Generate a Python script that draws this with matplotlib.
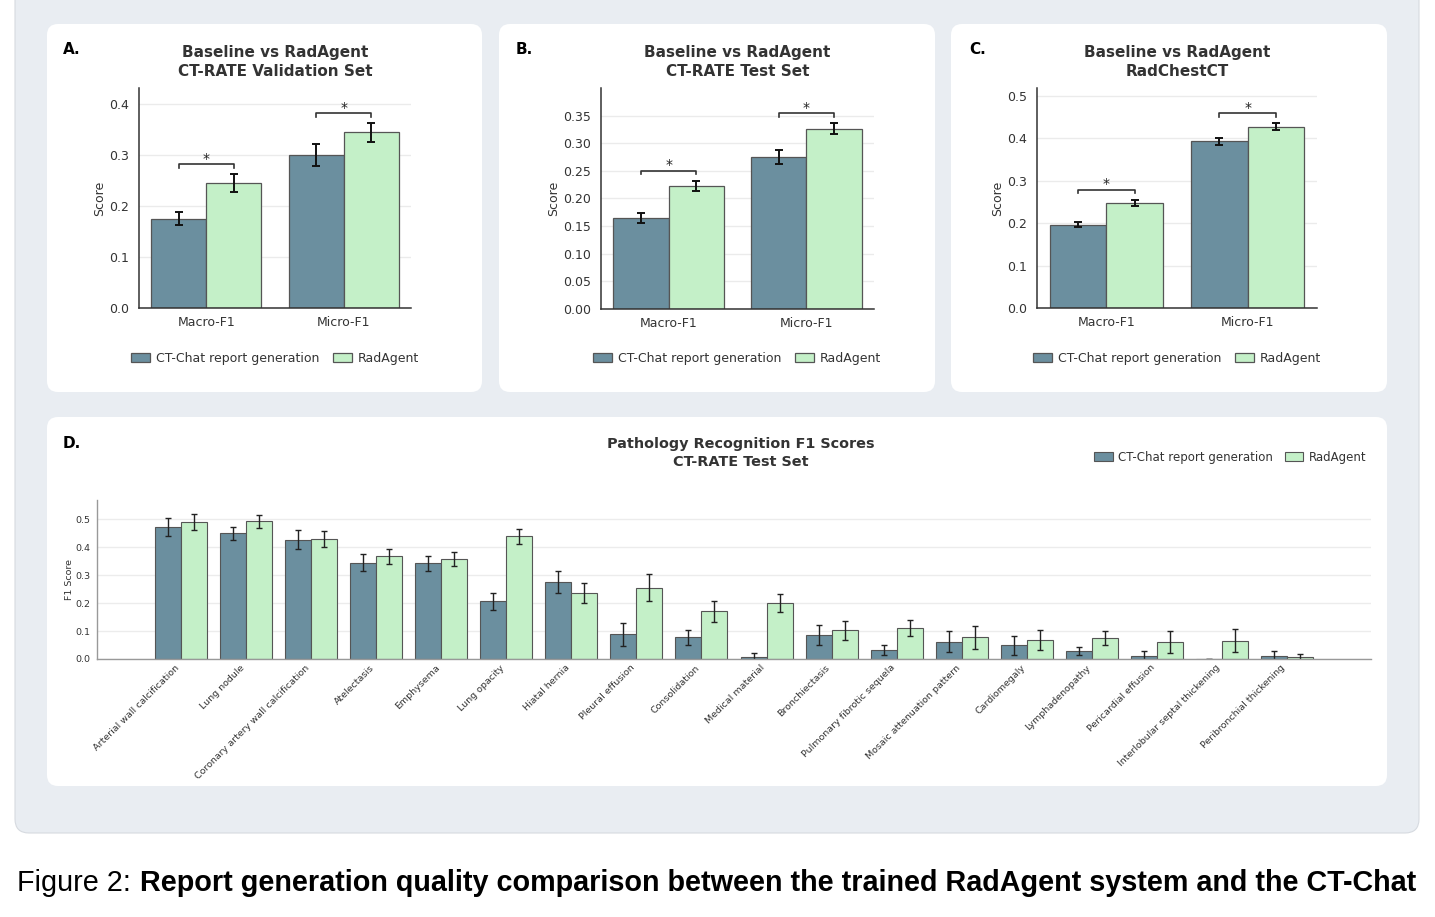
import numpy as np
import matplotlib
matplotlib.use('Agg')
import matplotlib.pyplot as plt
from matplotlib.patches import FancyBboxPatch
from matplotlib.ticker import MultipleLocator

W, H = 1435, 917

# ---------------- data ----------------
series_names = ['CT-Chat report generation', 'RadAgent']
metric_labels = ['Macro-F1', 'Micro-F1']

a_base = [0.175, 0.300]
a_base_err = [0.013, 0.021]
a_rad = [0.245, 0.344]
a_rad_err = [0.017, 0.018]

b_base = [0.164, 0.275]
b_base_err = [0.009, 0.012]
b_rad = [0.223, 0.326]
b_rad_err = [0.009, 0.010]

c_base = [0.196, 0.392]
c_base_err = [0.0055, 0.0075]
c_rad = [0.247, 0.427]
c_rad_err = [0.008, 0.008]

pathologies = ['Arterial wall calcification', 'Lung nodule',
               'Coronary artery wall calcification', 'Atelectasis', 'Emphysema',
               'Lung opacity', 'Hiatal hernia', 'Pleural effusion', 'Consolidation',
               'Medical material', 'Bronchiectasis', 'Pulmonary fibrotic sequela',
               'Mosaic attenuation pattern', 'Cardiomegaly', 'Lymphadenopathy',
               'Pericardial effusion', 'Interlobular septal thickening',
               'Peribronchial thickening']
d_base = [0.472, 0.450, 0.426, 0.345, 0.342, 0.207, 0.274, 0.088, 0.077, 0.007,
          0.086, 0.032, 0.062, 0.050, 0.028, 0.009, 0.0, 0.011]
d_base_err = [0.031, 0.023, 0.034, 0.030, 0.028, 0.030, 0.039, 0.040, 0.028, 0.014,
              0.036, 0.017, 0.038, 0.034, 0.015, 0.020, 0.0, 0.018]
d_rad = [0.490, 0.492, 0.428, 0.367, 0.357, 0.439, 0.237, 0.255, 0.170, 0.200,
         0.102, 0.112, 0.077, 0.069, 0.075, 0.060, 0.066, 0.006]
d_rad_err = [0.027, 0.023, 0.029, 0.027, 0.025, 0.026, 0.036, 0.049, 0.037, 0.033,
             0.034, 0.028, 0.040, 0.036, 0.025, 0.040, 0.040, 0.011]

caption_plain = 'Figure 2: '
caption_bold = ('Report generation quality comparison between the trained RadAgent '
                'system and the CT-Chat')

# ---------------- style ----------------
BASE = '#6b8f9f'
RAD = '#c4f0c8'
EDGE = '#555555'
TXT = '#333333'
BG = '#e9edf2'

plt.rcParams['font.family'] = ['DejaVu Sans']

fig = plt.figure(figsize=(W / 100, H / 100), dpi=100)
fig.patch.set_facecolor('white')


def px_rect(x0, y0, x1, y1):
    return [x0 / W, 1 - y1 / H, (x1 - x0) / W, (y1 - y0) / H]


def fx(x):
    return x / W


def fy(y):
    return 1 - y / H


# background and cards
bg = fig.add_axes([0, 0, 1, 1])
bg.set_xlim(0, W)
bg.set_ylim(H, 0)
bg.axis('off')
bg.set_zorder(-10)
bg.add_patch(FancyBboxPatch((15, -40), 1404, 873,
                            boxstyle='round,pad=0,rounding_size=14',
                            fc=BG, ec='#d6dae0', lw=0.8))
for (x0, y0, x1, y1) in [(47, 24, 482, 392), (499, 24, 935, 392),
                         (951, 24, 1387, 392), (47, 417, 1387, 786)]:
    bg.add_patch(FancyBboxPatch((x0, y0), x1 - x0, y1 - y0,
                                boxstyle='round,pad=0,rounding_size=11',
                                fc='white', ec='none'))


def small_panel(rect, letter, letter_x, title, base, base_err, rad, rad_err,
                step, ylabel_px, legend_cx):
    ax = fig.add_axes(px_rect(*rect))
    x = np.arange(len(metric_labels))
    w = 0.4
    ekw = dict(ecolor='#111111', elinewidth=1.4, capsize=3.2, capthick=1.4)
    ax.bar(x - w / 2, base, w, yerr=base_err, color=BASE, edgecolor=EDGE,
           linewidth=0.9, error_kw=ekw, label=series_names[0], zorder=2)
    ax.bar(x + w / 2, rad, w, yerr=rad_err, color=RAD, edgecolor=EDGE,
           linewidth=0.9, error_kw=ekw, label=series_names[1], zorder=2)
    top = max(np.max(np.add(base, base_err)), np.max(np.add(rad, rad_err))) * 1.19
    for i in range(len(x)):
        yb = max(base[i] + base_err[i], rad[i] + rad_err[i]) + 0.045 * top
        tip = 0.015 * top
        ax.plot([x[i] - w / 2, x[i] - w / 2, x[i] + w / 2, x[i] + w / 2],
                [yb - tip, yb, yb, yb - tip], color='#333333', lw=1.2, zorder=3)
        ax.annotate('*', xy=(x[i], yb), xytext=(0, -1), textcoords='offset points',
                    ha='center', va='bottom', fontsize=10, color='#222222')
    ax.set_ylim(0, top)
    ax.yaxis.set_major_locator(MultipleLocator(step))
    ax.set_xticks(x)
    ax.set_xticklabels(metric_labels)
    for s in ['top', 'right']:
        ax.spines[s].set_visible(False)
    for s in ['left', 'bottom']:
        ax.spines[s].set_color('#333333')
        ax.spines[s].set_linewidth(1.1)
    ax.tick_params(axis='y', length=0, pad=7, labelsize=9, colors=TXT)
    ax.tick_params(axis='x', length=0, pad=6, labelsize=9, colors=TXT)
    ax.yaxis.grid(True, color='#ebebeb', lw=1)
    ax.set_axisbelow(True)
    ax.set_ylabel('Score', fontsize=9, color=TXT)
    ax.yaxis.set_label_coords((ylabel_px - rect[0]) / (rect[2] - rect[0]), 0.5)
    cx = (rect[0] + rect[2]) / 2
    fig.text(fx(cx), fy(62), title, ha='center', va='center', fontsize=11,
             fontweight='bold', color=TXT, linespacing=1.3)
    fig.text(fx(letter_x), fy(50), letter, ha='left', va='center', fontsize=11,
             fontweight='bold', color='black')
    h, l = ax.get_legend_handles_labels()
    fig.legend(h, l, loc='center', bbox_to_anchor=(fx(legend_cx), fy(358)),
               ncol=2, frameon=False, fontsize=9, handlelength=1.5,
               handletextpad=0.5, columnspacing=1.1, labelcolor=TXT)
    return ax


small_panel((139, 88, 411, 308), 'A.', 63,
            'Baseline vs RadAgent\nCT-RATE Validation Set',
            a_base, a_base_err, a_rad, a_rad_err, 0.1, 106, 275)
small_panel((601, 88, 874, 309), 'B.', 516,
            'Baseline vs RadAgent\nCT-RATE Test Set',
            b_base, b_base_err, b_rad, b_rad_err, 0.05, 560, 737)
small_panel((1037, 88, 1317, 308), 'C.', 969,
            'Baseline vs RadAgent\nRadChestCT',
            c_base, c_base_err, c_rad, c_rad_err, 0.1, 1004, 1177)

# ---------------- panel D ----------------
rectD = (97, 500, 1371, 659)
axd = fig.add_axes(px_rect(*rectD))
xd = np.arange(len(pathologies))
wd = 0.4
ekw = dict(ecolor='#222222', elinewidth=1.0, capsize=2.2, capthick=1.0)
axd.bar(xd - wd / 2, d_base, wd, yerr=d_base_err, color=BASE, edgecolor=EDGE,
        linewidth=0.8, error_kw=ekw, label=series_names[0], zorder=2)
axd.bar(xd + wd / 2, d_rad, wd, yerr=d_rad_err, color=RAD, edgecolor=EDGE,
        linewidth=0.8, error_kw=ekw, label=series_names[1], zorder=2)
topd = max(np.max(np.add(d_base, d_base_err)), np.max(np.add(d_rad, d_rad_err))) * 1.1
axd.set_ylim(0, topd)
axd.yaxis.set_major_locator(MultipleLocator(0.1))
axd.set_xticks(xd)
axd.set_xticklabels(pathologies, rotation=45, ha='right')
for s in ['top', 'right']:
    axd.spines[s].set_visible(False)
for s in ['left', 'bottom']:
    axd.spines[s].set_color('#999999')
    axd.spines[s].set_linewidth(1.0)
axd.tick_params(axis='y', length=0, pad=4.5, labelsize=6.8, colors=TXT)
axd.tick_params(axis='x', length=0, pad=3, labelsize=6.8, colors=TXT)
axd.yaxis.grid(True, color='#ececec', lw=1)
axd.set_axisbelow(True)
axd.set_ylabel('F1 Score', fontsize=6.8, color=TXT)
axd.yaxis.set_label_coords((74 - rectD[0]) / (rectD[2] - rectD[0]), 0.5)
fig.text(fx(741), fy(453), 'Pathology Recognition F1 Scores\nCT-RATE Test Set',
         ha='center', va='center', fontsize=10.4, fontweight='bold', color=TXT,
         linespacing=1.3)
fig.text(fx(63), fy(444), 'D.', ha='left', va='center', fontsize=11,
         fontweight='bold', color='black')
hd, ld = axd.get_legend_handles_labels()
fig.legend(hd, ld, loc='center', bbox_to_anchor=(fx(1230), fy(457)), ncol=2,
           frameon=False, fontsize=8.5, handlelength=1.6, handletextpad=0.45,
           columnspacing=1.0, labelcolor=TXT)

# ---------------- caption ----------------
cap_font = 'Liberation Sans'
renderer = fig.canvas.get_renderer()
probe1 = fig.text(0, 0, 'Figure 2:', fontsize=10, family=cap_font)
probe2 = fig.text(0, 0, caption_bold, fontsize=10, family=cap_font, fontweight='bold')
w1 = probe1.get_window_extent(renderer).width
w2 = probe2.get_window_extent(renderer).width
probe1.remove()
probe2.remove()
space = 0.32 * 10 * 100 / 72
target = 1400.0
size = 10 * target / (w1 + space + w2)
x0 = 17
fig.text(fx(x0), fy(891), caption_plain.strip(), fontsize=size, family=cap_font,
         va='baseline', ha='left', color='black')
fig.text(fx(x0 + (w1 + space) * size / 10), fy(891), caption_bold, fontsize=size,
         family=cap_font, fontweight='bold', va='baseline', ha='left', color='black')

fig.savefig('out.png', dpi=100)
